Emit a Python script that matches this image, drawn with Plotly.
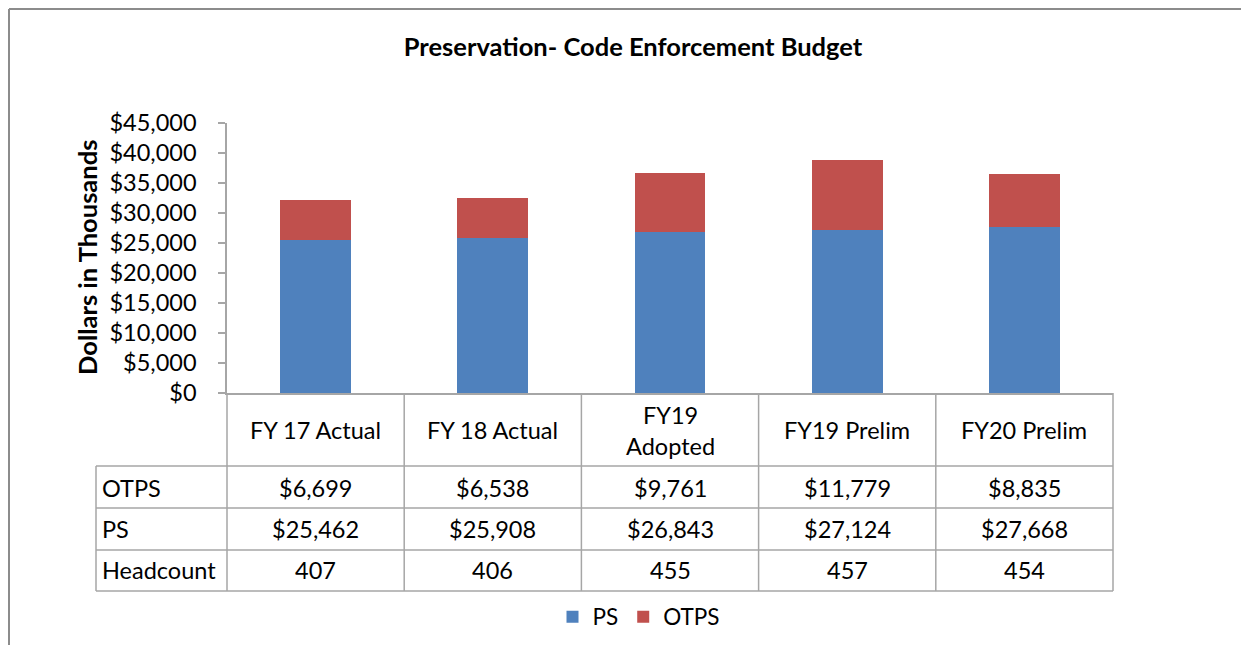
import plotly.graph_objects as go

categories = ["FY 17 Actual", "FY 18 Actual", "FY19<br>Adopted", "FY19 Prelim", "FY20 Prelim"]
ps_values = [25462, 25908, 26843, 27124, 27668]
otps_values = [6699, 6538, 9761, 11779, 8835]
headcount = [407, 406, 455, 457, 454]
y_ticks = list(range(0, 45001, 5000))

OFF = 8  # page body margin
W, H = 1249 - 2 * OFF, 653 - 2 * OFF
L, R, T, B = 227, 1113, 123, 393  # plot area (page pixels)
FONT = "Lato"
FS = 23.5
BLUE = "#4F81BD"
RED = "#C0504D"
GRID = "#A6A6A6"

def px(x):
    return (x - L) / (R - L)

def py(y):
    return (B - y) / (B - T)

fig = go.Figure()
fig.add_trace(go.Bar(name="PS", x=list(range(len(categories))), y=ps_values,
                     marker=dict(color=BLUE, line=dict(width=0)), width=0.4))
fig.add_trace(go.Bar(name="OTPS", x=list(range(len(categories))), y=otps_values,
                     marker=dict(color=RED, line=dict(width=0)), width=0.4))

shapes = []
def line(x0, y0, x1, y1, color=GRID, width=1.5):
    shapes.append(dict(type="line", xref="paper", yref="paper",
                       x0=px(x0), y0=py(y0), x1=px(x1), y1=py(y1),
                       line=dict(color=color, width=width)))

# outer chart frame: top and left edges, kept inside the figure
line(OFF + 1, OFF + 1, OFF + W, OFF + 1, color="#8C8C8C", width=2)
line(OFF + 1, OFF + 1, OFF + 1, OFF + H, color="#8C8C8C", width=2)

# table grid
n = len(categories)
col_edges = [L + i * (R - L) / n for i in range(n + 1)]
row_edges = [466, 508, 550, 591]
for xe in col_edges:
    line(xe, B, xe, row_edges[-1])
line(96, row_edges[0], 96, row_edges[-1])
for ye in row_edges:
    line(96, ye, R, ye)

annotations = []
def text(x, y, s, anchor="center", size=FS):
    annotations.append(dict(xref="paper", yref="paper", x=px(x), y=py(y), text=s,
                            showarrow=False, xanchor=anchor, yanchor="middle",
                            font=dict(family=FONT, size=size, color="#000000")))

centers = [(col_edges[i] + col_edges[i + 1]) / 2 for i in range(n)]
for i, c in enumerate(categories):
    text(centers[i], 430, c)
    text(centers[i], 488, f"${otps_values[i]:,}")
    text(centers[i], 529, f"${ps_values[i]:,}")
    text(centers[i], 570, f"{headcount[i]}")
text(100, 488, "OTPS", anchor="left")
text(100, 529, "PS", anchor="left")
text(100, 570, "Headcount", anchor="left")

# y-axis title
annotations.append(dict(xref="paper", yref="paper", x=px(87), y=py(258),
                        text="<b>Dollars in Thousands</b>", textangle=-90,
                        showarrow=False, xanchor="center", yanchor="middle",
                        font=dict(family=FONT, size=25.5, color="#000000")))

fig.update_layout(
    width=W, height=H,
    margin=dict(l=L - OFF, r=W - (R - OFF), t=T - OFF, b=H - (B - OFF), pad=0,
                autoexpand=False),
    paper_bgcolor="white", plot_bgcolor="white",
    barmode="stack",
    title=dict(text="<b>Preservation- Code Enforcement Budget</b>",
               x=(633 - OFF) / W, xref="container", xanchor="center",
               y=1 - (47 - OFF) / H, yref="container", yanchor="middle",
               font=dict(family=FONT, size=25.5, color="#000000")),
    xaxis=dict(range=[-0.5, n - 0.5], showticklabels=False, ticks="",
               showline=True, linecolor=GRID, linewidth=1.5, showgrid=False,
               zeroline=False, fixedrange=True),
    yaxis=dict(range=[0, 45000], tickvals=y_ticks,
               ticktext=[f"${v:,}" for v in y_ticks],
               ticks="outside", ticklen=7, tickcolor=GRID, tickwidth=1.5,
               ticklabelstandoff=17, automargin=False,
               showline=True, linecolor=GRID, linewidth=1.5,
               showgrid=False, zeroline=False,
               tickfont=dict(family=FONT, size=FS, color="#000000")),
    legend=dict(orientation="h", x=px(639), xanchor="center",
                y=py(617), yanchor="middle", traceorder="normal",
                font=dict(family=FONT, size=22.5, color="#000000"),
                bgcolor="rgba(0,0,0,0)"),
    shapes=shapes, annotations=annotations,
    showlegend=True,
)

fig.write_html("out.html")
